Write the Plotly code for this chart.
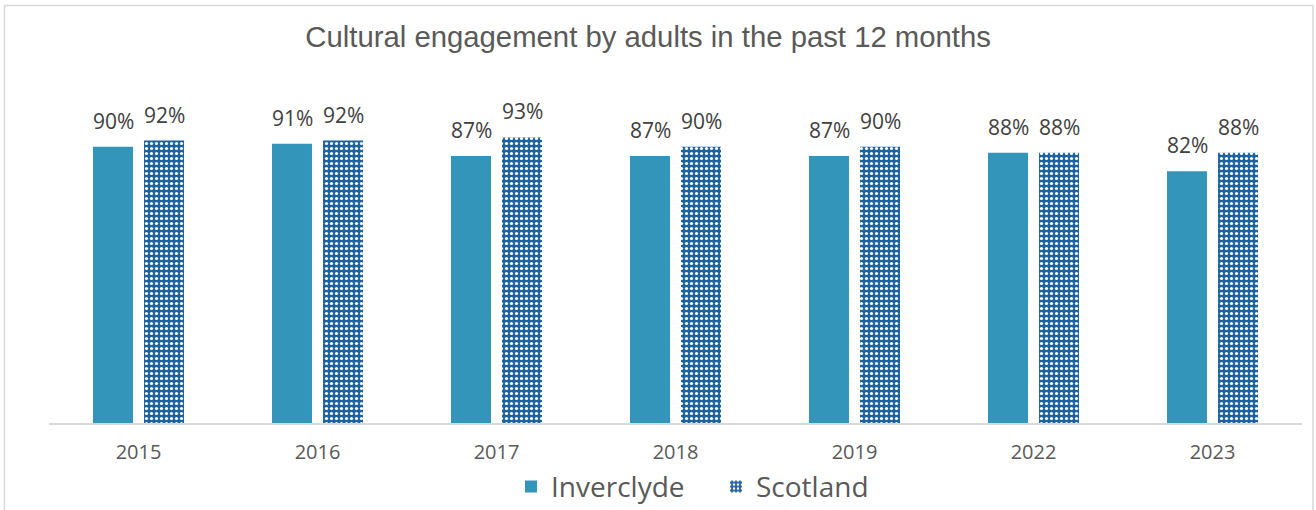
import plotly.graph_objects as go

years = ["2015", "2016", "2017", "2018", "2019", "2022", "2023"]
inverclyde = [90, 91, 87, 87, 87, 88, 82]
scotland = [92, 92, 93, 90, 90, 88, 88]
series_names = ["Inverclyde", "Scotland"]
title_text = "Cultural engagement by adults in the past 12 months"

GREY = "#595959"
FONT = "Open Sans"

fig = go.Figure()
fig.add_trace(go.Bar(
    x=years, y=inverclyde, name=series_names[0],
    marker=dict(color="#3495BA", line=dict(width=0)),
))
fig.add_trace(go.Bar(
    x=years, y=scotland, name=series_names[1],
    marker=dict(color="#1F64A0", line=dict(width=0),
                pattern=dict(shape=".", fgcolor="white", bgcolor="#1D62A0",
                             size=5, solidity=0.33, fillmode="replace")),
))

annotations = []
for i, v in enumerate(inverclyde):
    annotations.append(dict(x=i, y=v, text=f"{v}%", showarrow=False, xshift=-25.5,
                            yshift=26, yanchor="middle", xanchor="center",
                            font=dict(family=FONT, size=21, color="#404040")))
for i, v in enumerate(scotland):
    annotations.append(dict(x=i, y=v, text=f"{v}%", showarrow=False, xshift=25.5,
                            yshift=26, yanchor="middle", xanchor="center",
                            font=dict(family=FONT, size=21, color="#404040")))

fig.update_layout(
    width=1316, height=510,
    margin=dict(l=49, r=14, t=116, b=87, autoexpand=False),
    paper_bgcolor="white", plot_bgcolor="white",
    barmode="group", bargap=0.43, bargroupgap=0.216,
    title=dict(text=title_text, x=0.4925, xanchor="center", y=0.927, yanchor="middle",
               font=dict(family="Liberation Sans", size=29.3, color=GREY)),
    showlegend=True,
    legend=dict(orientation="h", x=(511 - 49) / 1253, xanchor="left", y=-0.208, yanchor="middle",
                font=dict(family=FONT, size=28, color=GREY), itemsizing="constant",
                bgcolor="rgba(0,0,0,0)", tracegroupgap=0, entrywidth=160),
    annotations=annotations,
    shapes=[dict(type="rect", xref="paper", yref="paper",
                 x0=(4.5 - 49) / 1253, x1=(1313 - 49) / 1253,
                 y0=-0.4, y1=(423 - 5.5) / 307,
                 line=dict(color="#D9D9D9", width=1.5), fillcolor="rgba(0,0,0,0)",
                 layer="below")],
)
fig.update_xaxes(type="category", showline=True, linecolor="#D9D9D9", linewidth=1.5, ticks="",
                 ticklabelstandoff=10, showgrid=False, automargin=False,
                 tickfont=dict(family=FONT, size=20, color=GREY))
fig.update_yaxes(range=[0, 100], visible=False, showgrid=False)

fig.write_html("out.html", config={"displayModeBar": False},
               post_script="document.body.style.margin='0';")
